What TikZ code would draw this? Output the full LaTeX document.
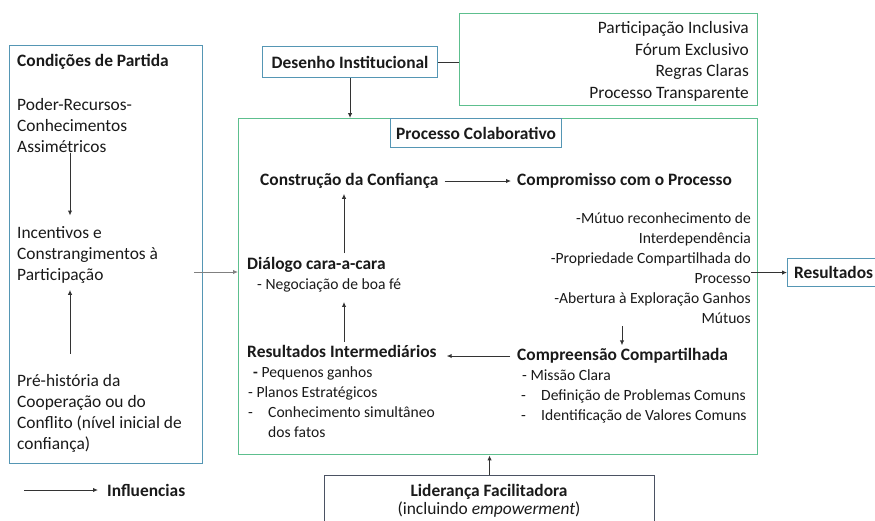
\documentclass[tikz,border=0pt]{standalone}
\usepackage{fontspec}
\setmainfont{Carlito}
\usetikzlibrary{arrows.meta,calc}
\definecolor{boxblue}{HTML}{5596B4}
\definecolor{boxgreen}{HTML}{5DBF8E}
\definecolor{darkbox}{HTML}{4B5263}
\definecolor{txt}{HTML}{1A1A1A}
\tikzset{
  big/.style={font=\fontsize{17.4}{21}\selectfont},
  bigb/.style={font=\fontsize{17.4}{21}\selectfont\bfseries},
  sm/.style={font=\fontsize{15.6}{20}\selectfont},
  bluebox/.style={draw=boxblue, line width=1.1pt},
  greenbox/.style={draw=boxgreen, line width=1.4pt},
  arr/.style={-{Latex[length=5pt,width=4.5pt]}, line width=1pt, draw=black!80},
  every node/.style={inner sep=0pt, text=txt},
}
\begin{document}
\begin{tikzpicture}[x=1pt,y=-1pt]
\useasboundingbox (0,0) rectangle (875,520);
\fill[white] (0,0) rectangle (875,520);

% ---------- left box ----------
\node[bluebox, anchor=north west, minimum width=193pt, minimum height=418pt] (leftbox) at (9,45) {};
\node[bigb, anchor=west] (cond) at (17,62) {Condições de Partida};
\node[big, anchor=north west, align=left] (poder) at (17,98) {Poder-Recursos-\\Conhecimentos\\Assimétricos};
\node[big, anchor=north west, align=left] (incent) at (17,226.5) {Incentivos e\\Constrangimentos à\\Participação};
\node[big, anchor=north west, align=left] (pre) at (17,374.5) {Pré-história da\\Cooperação ou do\\Conflito (nível inicial de\\confiança)};
\coordinate (ax) at (70,0);
\draw[arr, shorten <=0pt, shorten >=11pt] (poder.south -| ax) -- (incent.north -| ax);
\draw[arr, shorten <=21pt, shorten >=6pt] (pre.north -| ax) -- (incent.south -| ax);

% ---------- legend ----------
\coordinate (lg0) at (24,490);
\node[bigb, anchor=west] (infl) at (107,490) {Influencias};
\draw[arr, shorten >=9pt] (lg0) -- (infl.west);

% ---------- top ----------
\node[bluebox, bigb, anchor=north west, minimum width=175pt, minimum height=31pt] (des) at (262,46) {Desenho Institucional};
\node[greenbox, draw=boxgreen, anchor=north west, minimum width=298pt, minimum height=92pt] (rules) at (459,13) {};
\node[big, anchor=north east, align=right, font=\fontsize{17.4}{21.6}\selectfont] (rulestext) at (749,21.5) {Participação Inclusiva\\Fórum Exclusivo\\Regras Claras\\Processo Transparente};
\draw[line width=1pt, draw=black!80] (des.east) -- (rules.west |- des.east);

% ---------- process box ----------
\node[greenbox, anchor=north west, minimum width=519pt, minimum height=336pt] (proc) at (238,118) {};
\node[bluebox, bigb, anchor=north west, minimum width=171pt, minimum height=29pt] (pc) at (390,118) {Processo Colaborativo};
\draw[arr] (des.south) -- (proc.north -| des.south);

\node[bigb, anchor=west] (conf) at (260,181) {Construção da Confiança};
\node[bigb, anchor=west] (comp) at (517,181) {Compromisso com o Processo};
\draw[arr, shorten <=6pt, shorten >=6pt] (conf) -- (comp);

\node[bigb, anchor=west] (dia) at (247,265) {Diálogo cara-a-cara};
\node[sm, anchor=west] (neg) at (257,285) {- Negociação de boa fé};
\coordinate (bx) at (344,0);
\draw[arr, shorten <=4pt, shorten >=5pt] (dia.north -| bx) -- (conf.south -| bx);

\node[bigb, anchor=west] (ri) at (247,351) {Resultados Intermediários};
\node[sm, anchor=north west, align=left] (ril) at (248,366) {\hspace{5pt}\textbf{-} Pequenos ganhos\\- Planos Estratégicos\\\makebox[20pt][l]{-}Conhecimento simultâneo\\\hspace{20pt}dos fatos};
\draw[arr, shorten <=3pt, shorten >=10pt] (ri.north -| bx) -- (neg.south -| bx);

\node[sm, anchor=north east, align=right] (rl) at (751,212) {-Mútuo reconhecimento de\\Interdependência\\-Propriedade Compartilhada do\\Processo\\-Abertura à Exploração Ganhos\\Mútuos};
\node[bigb, anchor=west] (cc) at (517,356) {Compreensão Compartilhada};
\node[sm, anchor=north west, align=left] (ccl) at (521,369) {\hspace{1pt}- Missão Clara\\\makebox[20pt][l]{-}Definição de Problemas Comuns\\\makebox[20pt][l]{-}Identificação de Valores Comuns};
\coordinate (cx) at (622,0);
\draw[arr, shorten <=3pt, shorten >=3pt] (rl.south -| cx) -- (cc.north -| cx);
\draw[arr, shorten <=7pt, shorten >=10pt] (cc.west) -- (ri.east |- cc.west);

% ---------- results ----------
\node[bluebox, bigb, anchor=north west, minimum width=92pt, minimum height=28pt] (res) at (787,258) {Resultados};
\draw[arr] (rl.east |- res.west) -- (res.west);

% ---------- leadership ----------
\node[draw=darkbox, line width=1.1pt, anchor=north west, minimum width=330pt, minimum height=52pt] (lid) at (324,475) {};
\node[bigb] (lidt) at (489,492) {Liderança Facilitadora};
\node[big] (lide) at (489,510) {(incluindo \textit{empowerment})};
\draw[arr] (lid.north) -- (proc.south -| lid.north);

% ---------- left to process ----------
\coordinate (la) at (194,272);
\draw[arr, draw=gray] (la) -- (proc.west |- la);
\end{tikzpicture}
\end{document}
